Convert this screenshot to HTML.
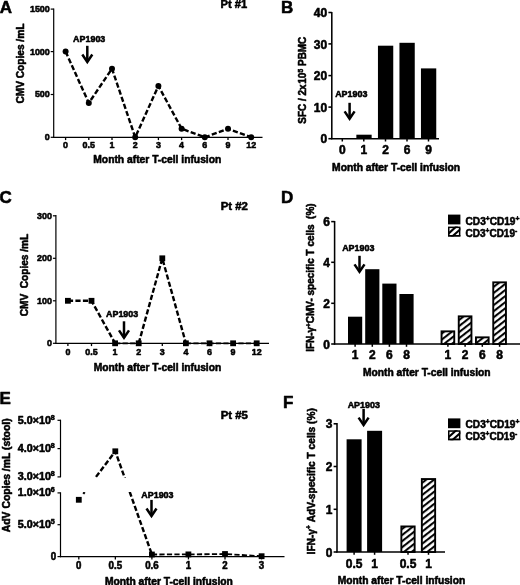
<!DOCTYPE html>
<html><head><meta charset="utf-8"><title>Figure</title>
<style>html,body{margin:0;padding:0;background:#fff;}svg{display:block;filter:blur(0.35px);}text{fill:#000;stroke:#000;stroke-width:0.55px;stroke-linejoin:round;}</style></head><body>
<svg width="520" height="585" viewBox="0 0 520 585" font-family="Liberation Sans, sans-serif" font-weight="bold">
<defs><pattern id="h" patternUnits="userSpaceOnUse" width="4.8" height="4.8" patternTransform="rotate(-38)"><rect width="4.8" height="4.8" fill="#fff"/><rect y="1" width="4.8" height="2.05" fill="#000"/></pattern><pattern id="h2" patternUnits="userSpaceOnUse" width="4.8" height="4.8" patternTransform="translate(0 2.2) rotate(-38)"><rect width="4.8" height="4.8" fill="#fff"/><rect y="1" width="4.8" height="2.05" fill="#000"/></pattern></defs>
<rect width="520" height="585" fill="#fff"/>
<text x="-0.2" y="13.2" font-size="17" text-anchor="start" >A</text>
<text x="280.9" y="12.7" font-size="17" text-anchor="start" >B</text>
<text x="-0.6" y="202.8" font-size="17" text-anchor="start" >C</text>
<text x="280.9" y="202.5" font-size="17" text-anchor="start" >D</text>
<text x="-0.5" y="403.5" font-size="17" text-anchor="start" >E</text>
<text x="283.0" y="407.6" font-size="17" text-anchor="start" >F</text>
<line x1="53.7" y1="8.5" x2="53.7" y2="137.9" stroke="#000" stroke-width="1.2" />
<line x1="53.1" y1="137.3" x2="262.5" y2="137.3" stroke="#000" stroke-width="1.2" />
<line x1="50.7" y1="9.1" x2="53.7" y2="9.1" stroke="#000" stroke-width="1.2" />
<text x="49.800000000000004" y="12.011999999999999" font-size="9.2" text-anchor="end" textLength="19.85" lengthAdjust="spacingAndGlyphs" >1500</text>
<line x1="50.7" y1="51.6" x2="53.7" y2="51.6" stroke="#000" stroke-width="1.2" />
<text x="49.800000000000004" y="54.512" font-size="9.2" text-anchor="end" textLength="19.85" lengthAdjust="spacingAndGlyphs" >1000</text>
<line x1="50.7" y1="94.5" x2="53.7" y2="94.5" stroke="#000" stroke-width="1.2" />
<text x="49.800000000000004" y="97.41199999999999" font-size="9.2" text-anchor="end" textLength="14.89" lengthAdjust="spacingAndGlyphs" >500</text>
<line x1="50.7" y1="137.3" x2="53.7" y2="137.3" stroke="#000" stroke-width="1.2" />
<text x="49.800000000000004" y="140.21200000000002" font-size="9.2" text-anchor="end" textLength="4.96" lengthAdjust="spacingAndGlyphs" >0</text>
<text x="65.6" y="148.21200000000002" font-size="9.2" text-anchor="middle" textLength="4.96" lengthAdjust="spacingAndGlyphs" >0</text>
<line x1="65.6" y1="137.3" x2="65.6" y2="140.1" stroke="#000" stroke-width="1.3" />
<text x="88.8" y="148.21200000000002" font-size="9.2" text-anchor="middle" textLength="12.4" lengthAdjust="spacingAndGlyphs" >0.5</text>
<line x1="88.8" y1="137.3" x2="88.8" y2="140.1" stroke="#000" stroke-width="1.3" />
<text x="112.0" y="148.21200000000002" font-size="9.2" text-anchor="middle" textLength="4.96" lengthAdjust="spacingAndGlyphs" >1</text>
<line x1="112.0" y1="137.3" x2="112.0" y2="140.1" stroke="#000" stroke-width="1.3" />
<text x="135.2" y="148.21200000000002" font-size="9.2" text-anchor="middle" textLength="4.96" lengthAdjust="spacingAndGlyphs" >2</text>
<line x1="135.2" y1="137.3" x2="135.2" y2="140.1" stroke="#000" stroke-width="1.3" />
<text x="158.39999999999998" y="148.21200000000002" font-size="9.2" text-anchor="middle" textLength="4.96" lengthAdjust="spacingAndGlyphs" >3</text>
<line x1="158.39999999999998" y1="137.3" x2="158.39999999999998" y2="140.1" stroke="#000" stroke-width="1.3" />
<text x="181.6" y="148.21200000000002" font-size="9.2" text-anchor="middle" textLength="4.96" lengthAdjust="spacingAndGlyphs" >4</text>
<line x1="181.6" y1="137.3" x2="181.6" y2="140.1" stroke="#000" stroke-width="1.3" />
<text x="204.79999999999998" y="148.21200000000002" font-size="9.2" text-anchor="middle" textLength="4.96" lengthAdjust="spacingAndGlyphs" >6</text>
<line x1="204.79999999999998" y1="137.3" x2="204.79999999999998" y2="140.1" stroke="#000" stroke-width="1.3" />
<text x="228.0" y="148.21200000000002" font-size="9.2" text-anchor="middle" textLength="4.96" lengthAdjust="spacingAndGlyphs" >9</text>
<line x1="228.0" y1="137.3" x2="228.0" y2="140.1" stroke="#000" stroke-width="1.3" />
<text x="251.2" y="148.21200000000002" font-size="9.2" text-anchor="middle" textLength="9.92" lengthAdjust="spacingAndGlyphs" >12</text>
<line x1="251.2" y1="137.3" x2="251.2" y2="140.1" stroke="#000" stroke-width="1.3" />
<polyline points="65.6,51.6 88.8,103.0 112.0,68.7 135.2,137.3 158.4,85.9 181.6,128.7 204.8,137.3 228.0,128.7 251.2,137.3" fill="none" stroke="#000" stroke-width="2.4" stroke-dasharray="5.2 2.3"/>
<circle cx="65.6" cy="51.6" r="3.0" fill="#000"/>
<circle cx="88.8" cy="103.0" r="3.0" fill="#000"/>
<circle cx="112.0" cy="68.7" r="3.0" fill="#000"/>
<circle cx="135.2" cy="137.3" r="3.0" fill="#000"/>
<circle cx="158.4" cy="85.9" r="3.0" fill="#000"/>
<circle cx="181.6" cy="128.7" r="3.0" fill="#000"/>
<circle cx="204.8" cy="137.3" r="3.0" fill="#000"/>
<circle cx="228.0" cy="128.7" r="3.0" fill="#000"/>
<circle cx="251.2" cy="137.3" r="3.0" fill="#000"/>
<text x="157.3" y="163.036" font-size="10.1" text-anchor="middle" textLength="128" lengthAdjust="spacingAndGlyphs" >Month after T-cell infusion</text>
<text transform="translate(23.836 63.6) rotate(-90)" font-size="10.1" text-anchor="middle" textLength="80" lengthAdjust="spacingAndGlyphs">CMV Copies /mL</text>
<text x="233.8" y="8.25" font-size="11.2" text-anchor="middle" textLength="26.7" lengthAdjust="spacingAndGlyphs" >Pt #1</text>
<text x="89.2" y="42.111999999999995" font-size="9.2" text-anchor="middle" textLength="32.2" lengthAdjust="spacingAndGlyphs" >AP1903</text>
<line x1="87.3" y1="45.8" x2="87.3" y2="61.967288643823395" stroke="#000" stroke-width="2.5" />
<polyline points="82.30,54.57 87.3,61.97 92.30,54.57" fill="none" stroke="#000" stroke-width="2.5" stroke-linejoin="miter" stroke-miterlimit="10"/>
<line x1="331.8" y1="12" x2="331.8" y2="139.29999999999998" stroke="#000" stroke-width="1.55" />
<line x1="331.2" y1="138.7" x2="439" y2="138.7" stroke="#000" stroke-width="1.55" />
<line x1="328.40000000000003" y1="12.5" x2="331.8" y2="12.5" stroke="#000" stroke-width="1.55" />
<text x="327.20000000000005" y="17.12" font-size="12" text-anchor="end" textLength="13.34" lengthAdjust="spacingAndGlyphs" >40</text>
<line x1="328.40000000000003" y1="43.9" x2="331.8" y2="43.9" stroke="#000" stroke-width="1.55" />
<text x="327.20000000000005" y="48.519999999999996" font-size="12" text-anchor="end" textLength="13.34" lengthAdjust="spacingAndGlyphs" >30</text>
<line x1="328.40000000000003" y1="75.6" x2="331.8" y2="75.6" stroke="#000" stroke-width="1.55" />
<text x="327.20000000000005" y="80.21999999999998" font-size="12" text-anchor="end" textLength="13.34" lengthAdjust="spacingAndGlyphs" >20</text>
<line x1="328.40000000000003" y1="107.1" x2="331.8" y2="107.1" stroke="#000" stroke-width="1.55" />
<text x="327.20000000000005" y="111.71999999999998" font-size="12" text-anchor="end" textLength="13.34" lengthAdjust="spacingAndGlyphs" >10</text>
<line x1="328.40000000000003" y1="138.7" x2="331.8" y2="138.7" stroke="#000" stroke-width="1.55" />
<text x="327.20000000000005" y="143.32" font-size="12" text-anchor="end" textLength="6.67" lengthAdjust="spacingAndGlyphs" >0</text>
<text x="342.3" y="154.22" font-size="12" text-anchor="middle" >0</text>
<line x1="342.3" y1="138.7" x2="342.3" y2="141.5" stroke="#000" stroke-width="1.5" />
<text x="363.8" y="154.22" font-size="12" text-anchor="middle" >1</text>
<line x1="363.8" y1="138.7" x2="363.8" y2="141.5" stroke="#000" stroke-width="1.5" />
<text x="385.5" y="154.22" font-size="12" text-anchor="middle" >2</text>
<line x1="385.5" y1="138.7" x2="385.5" y2="141.5" stroke="#000" stroke-width="1.5" />
<text x="407" y="154.22" font-size="12" text-anchor="middle" >6</text>
<line x1="407" y1="138.7" x2="407" y2="141.5" stroke="#000" stroke-width="1.5" />
<text x="428.5" y="154.22" font-size="12" text-anchor="middle" >9</text>
<line x1="428.5" y1="138.7" x2="428.5" y2="141.5" stroke="#000" stroke-width="1.5" />
<rect x="356.35" y="134.70" width="15.30" height="4.00" fill="#000"/>
<rect x="377.95" y="45.70" width="15.30" height="93.00" fill="#000"/>
<rect x="399.45" y="42.80" width="15.30" height="95.90" fill="#000"/>
<rect x="420.95" y="68.40" width="15.30" height="70.30" fill="#000"/>
<text x="396.1" y="171.33599999999998" font-size="10.1" text-anchor="middle" textLength="128" lengthAdjust="spacingAndGlyphs" >Month after T-cell infusion</text>
<text transform="translate(306.23600000000005 80.2) rotate(-90)" font-size="10.1" text-anchor="middle" textLength="87" lengthAdjust="spacingAndGlyphs">SFC / 2x<tspan dx="0.7">10</tspan><tspan font-size="6.8" dy="-3.7" dx="0.2">5</tspan><tspan dy="3.7"> PBMC</tspan></text>
<text x="351.3" y="96.91199999999999" font-size="9.2" text-anchor="middle" textLength="32.2" lengthAdjust="spacingAndGlyphs" >AP1903</text>
<line x1="349.6" y1="102.8" x2="349.6" y2="118.76728864382339" stroke="#000" stroke-width="2.5" />
<polyline points="344.60,111.37 349.6,118.77 354.60,111.37" fill="none" stroke="#000" stroke-width="2.5" stroke-linejoin="miter" stroke-miterlimit="10"/>
<line x1="55.9" y1="215" x2="55.9" y2="343.90000000000003" stroke="#000" stroke-width="1.2" />
<line x1="55.3" y1="343.3" x2="269" y2="343.3" stroke="#000" stroke-width="1.2" />
<line x1="52.9" y1="215.8" x2="55.9" y2="215.8" stroke="#000" stroke-width="1.2" />
<text x="52.0" y="218.71200000000002" font-size="9.2" text-anchor="end" textLength="14.89" lengthAdjust="spacingAndGlyphs" >300</text>
<line x1="52.9" y1="258.3" x2="55.9" y2="258.3" stroke="#000" stroke-width="1.2" />
<text x="52.0" y="261.21200000000005" font-size="9.2" text-anchor="end" textLength="14.89" lengthAdjust="spacingAndGlyphs" >200</text>
<line x1="52.9" y1="300.8" x2="55.9" y2="300.8" stroke="#000" stroke-width="1.2" />
<text x="52.0" y="303.71200000000005" font-size="9.2" text-anchor="end" textLength="14.89" lengthAdjust="spacingAndGlyphs" >100</text>
<line x1="52.9" y1="343.3" x2="55.9" y2="343.3" stroke="#000" stroke-width="1.2" />
<text x="52.0" y="346.21200000000005" font-size="9.2" text-anchor="end" textLength="4.96" lengthAdjust="spacingAndGlyphs" >0</text>
<text x="67.9" y="354.91200000000003" font-size="9.2" text-anchor="middle" textLength="4.96" lengthAdjust="spacingAndGlyphs" >0</text>
<line x1="67.9" y1="343.3" x2="67.9" y2="346.1" stroke="#000" stroke-width="1.3" />
<text x="91.5" y="354.91200000000003" font-size="9.2" text-anchor="middle" textLength="12.4" lengthAdjust="spacingAndGlyphs" >0.5</text>
<line x1="91.5" y1="343.3" x2="91.5" y2="346.1" stroke="#000" stroke-width="1.3" />
<text x="115.10000000000001" y="354.91200000000003" font-size="9.2" text-anchor="middle" textLength="4.96" lengthAdjust="spacingAndGlyphs" >1</text>
<line x1="115.10000000000001" y1="343.3" x2="115.10000000000001" y2="346.1" stroke="#000" stroke-width="1.3" />
<text x="138.70000000000002" y="354.91200000000003" font-size="9.2" text-anchor="middle" textLength="4.96" lengthAdjust="spacingAndGlyphs" >2</text>
<line x1="138.70000000000002" y1="343.3" x2="138.70000000000002" y2="346.1" stroke="#000" stroke-width="1.3" />
<text x="162.3" y="354.91200000000003" font-size="9.2" text-anchor="middle" textLength="4.96" lengthAdjust="spacingAndGlyphs" >3</text>
<line x1="162.3" y1="343.3" x2="162.3" y2="346.1" stroke="#000" stroke-width="1.3" />
<text x="185.9" y="354.91200000000003" font-size="9.2" text-anchor="middle" textLength="4.96" lengthAdjust="spacingAndGlyphs" >4</text>
<line x1="185.9" y1="343.3" x2="185.9" y2="346.1" stroke="#000" stroke-width="1.3" />
<text x="209.50000000000003" y="354.91200000000003" font-size="9.2" text-anchor="middle" textLength="4.96" lengthAdjust="spacingAndGlyphs" >6</text>
<line x1="209.50000000000003" y1="343.3" x2="209.50000000000003" y2="346.1" stroke="#000" stroke-width="1.3" />
<text x="233.10000000000002" y="354.91200000000003" font-size="9.2" text-anchor="middle" textLength="4.96" lengthAdjust="spacingAndGlyphs" >9</text>
<line x1="233.10000000000002" y1="343.3" x2="233.10000000000002" y2="346.1" stroke="#000" stroke-width="1.3" />
<text x="256.70000000000005" y="354.91200000000003" font-size="9.2" text-anchor="middle" textLength="9.92" lengthAdjust="spacingAndGlyphs" >12</text>
<line x1="256.70000000000005" y1="343.3" x2="256.70000000000005" y2="346.1" stroke="#000" stroke-width="1.3" />
<polyline points="67.9,300.8 91.5,300.8 115.1,343.3" fill="none" stroke="#000" stroke-width="2.4" stroke-dasharray="5.2 2.3"/>
<polyline points="115.1,343.3 138.7,343.3" fill="none" stroke="#000" stroke-width="1.7" stroke-dasharray="5.2 2.3"/>
<polyline points="138.7,343.3 162.3,258.3 185.9,343.3" fill="none" stroke="#000" stroke-width="2.4" stroke-dasharray="5.2 2.3"/>
<polyline points="185.9,343.3 209.5,343.3 233.1,343.3 256.7,343.3" fill="none" stroke="#000" stroke-width="1.7" stroke-dasharray="5.2 2.3"/>
<rect x="65.0" y="297.9" width="5.8" height="5.8" fill="#000"/>
<rect x="88.6" y="297.9" width="5.8" height="5.8" fill="#000"/>
<rect x="112.2" y="340.4" width="5.8" height="5.8" fill="#000"/>
<rect x="135.8" y="340.4" width="5.8" height="5.8" fill="#000"/>
<rect x="159.4" y="255.4" width="5.8" height="5.8" fill="#000"/>
<rect x="183.0" y="340.4" width="5.8" height="5.8" fill="#000"/>
<rect x="206.6" y="340.4" width="5.8" height="5.8" fill="#000"/>
<rect x="230.2" y="340.4" width="5.8" height="5.8" fill="#000"/>
<rect x="253.8" y="340.4" width="5.8" height="5.8" fill="#000"/>
<text x="157.5" y="371.336" font-size="10.1" text-anchor="middle" textLength="127.5" lengthAdjust="spacingAndGlyphs" >Month after T-cell infusion</text>
<text transform="translate(27.535999999999998 275.0) rotate(-90)" font-size="10.1" text-anchor="middle" textLength="82.5" lengthAdjust="spacingAndGlyphs">CMV&#160; Copies /mL</text>
<text x="234.3" y="210.3" font-size="11.2" text-anchor="middle" textLength="27.3" lengthAdjust="spacingAndGlyphs" >Pt #2</text>
<text x="122.1" y="316.91200000000003" font-size="9.2" text-anchor="middle" textLength="32.2" lengthAdjust="spacingAndGlyphs" >AP1903</text>
<line x1="124" y1="321.3" x2="124" y2="337.7672886438234" stroke="#000" stroke-width="2.5" />
<polyline points="119.00,330.37 124,337.77 129.00,330.37" fill="none" stroke="#000" stroke-width="2.5" stroke-linejoin="miter" stroke-miterlimit="10"/>
<line x1="334.6" y1="221" x2="334.6" y2="344.6" stroke="#000" stroke-width="1.55" />
<line x1="334.0" y1="344" x2="520" y2="344" stroke="#000" stroke-width="1.55" />
<line x1="331.20000000000005" y1="221.6" x2="334.6" y2="221.6" stroke="#000" stroke-width="1.55" />
<text x="330.00000000000006" y="226.22" font-size="12" text-anchor="end" textLength="6.67" lengthAdjust="spacingAndGlyphs" >6</text>
<line x1="331.20000000000005" y1="262.3" x2="334.6" y2="262.3" stroke="#000" stroke-width="1.55" />
<text x="330.00000000000006" y="266.92" font-size="12" text-anchor="end" textLength="6.67" lengthAdjust="spacingAndGlyphs" >4</text>
<line x1="331.20000000000005" y1="303.3" x2="334.6" y2="303.3" stroke="#000" stroke-width="1.55" />
<text x="330.00000000000006" y="307.92" font-size="12" text-anchor="end" textLength="6.67" lengthAdjust="spacingAndGlyphs" >2</text>
<line x1="331.20000000000005" y1="344" x2="334.6" y2="344" stroke="#000" stroke-width="1.55" />
<text x="330.00000000000006" y="348.62" font-size="12" text-anchor="end" textLength="6.67" lengthAdjust="spacingAndGlyphs" >0</text>
<rect x="348.00" y="316.70" width="14.20" height="27.30" fill="#000"/>
<text x="355.1" y="358.92" font-size="12" text-anchor="middle" >1</text>
<line x1="355.1" y1="344" x2="355.1" y2="346.8" stroke="#000" stroke-width="1.5" />
<rect x="365.20" y="269.20" width="14.20" height="74.80" fill="#000"/>
<text x="372.3" y="358.92" font-size="12" text-anchor="middle" >2</text>
<line x1="372.3" y1="344" x2="372.3" y2="346.8" stroke="#000" stroke-width="1.5" />
<rect x="382.30" y="283.60" width="14.20" height="60.40" fill="#000"/>
<text x="389.4" y="358.92" font-size="12" text-anchor="middle" >6</text>
<line x1="389.4" y1="344" x2="389.4" y2="346.8" stroke="#000" stroke-width="1.5" />
<rect x="399.40" y="294.00" width="14.20" height="50.00" fill="#000"/>
<text x="406.5" y="358.92" font-size="12" text-anchor="middle" >8</text>
<line x1="406.5" y1="344" x2="406.5" y2="346.8" stroke="#000" stroke-width="1.5" />
<rect x="441.55" y="331.35" width="12.70" height="12.65" fill="url(#h)" stroke="#000" stroke-width="1.9"/>
<text x="447.9" y="358.92" font-size="12" text-anchor="middle" >1</text>
<line x1="447.9" y1="344" x2="447.9" y2="346.8" stroke="#000" stroke-width="1.5" />
<rect x="458.75" y="316.35" width="12.70" height="27.65" fill="url(#h)" stroke="#000" stroke-width="1.9"/>
<text x="465.1" y="358.92" font-size="12" text-anchor="middle" >2</text>
<line x1="465.1" y1="344" x2="465.1" y2="346.8" stroke="#000" stroke-width="1.5" />
<rect x="475.95" y="337.35" width="12.70" height="6.65" fill="url(#h)" stroke="#000" stroke-width="1.9"/>
<text x="482.3" y="358.92" font-size="12" text-anchor="middle" >6</text>
<line x1="482.3" y1="344" x2="482.3" y2="346.8" stroke="#000" stroke-width="1.5" />
<rect x="493.25" y="282.35" width="12.70" height="61.65" fill="url(#h)" stroke="#000" stroke-width="1.9"/>
<text x="499.6" y="358.92" font-size="12" text-anchor="middle" >8</text>
<line x1="499.6" y1="344" x2="499.6" y2="346.8" stroke="#000" stroke-width="1.5" />
<text x="426.8" y="375.836" font-size="10.1" text-anchor="middle" textLength="127.5" lengthAdjust="spacingAndGlyphs" >Month after T-cell infusion</text>
<text transform="translate(314.036 277.6) rotate(-90)" font-size="10.1" text-anchor="middle" textLength="148.5" lengthAdjust="spacingAndGlyphs">IFN-γ<tspan font-size="6.5" dy="-3.5">+</tspan><tspan dy="3.5">CMV- specific T cells&#160; (%)</tspan></text>
<text x="358.3" y="251.21200000000002" font-size="9.2" text-anchor="middle" textLength="32.2" lengthAdjust="spacingAndGlyphs" >AP1903</text>
<line x1="359.5" y1="255.8" x2="359.5" y2="271.7672886438234" stroke="#000" stroke-width="2.5" />
<polyline points="354.50,264.37 359.5,271.77 364.50,264.37" fill="none" stroke="#000" stroke-width="2.5" stroke-linejoin="miter" stroke-miterlimit="10"/>
<rect x="448.00" y="214.60" width="12.40" height="9.80" fill="#000"/>
<clipPath id="c226"><rect x="448" y="226.6" width="12.4" height="9.9"/></clipPath>
<rect x="448.75" y="227.35" width="10.9" height="8.4" fill="#fff" stroke="#000" stroke-width="1.5"/>
<line x1="443.71" y1="237.83" x2="461.55" y2="221.77" stroke="#000" stroke-width="2.1" clip-path="url(#c226)"/>
<line x1="446.85" y1="241.33" x2="464.69" y2="225.27" stroke="#000" stroke-width="2.1" clip-path="url(#c226)"/>
<line x1="448" y1="235.75" x2="460.4" y2="235.75" stroke="#000" stroke-width="1.5"/>
<text x="465.6" y="224.5" font-size="10.4" text-anchor="start" textLength="53.8" lengthAdjust="spacingAndGlyphs" >CD3<tspan font-size="7" dy="-4">+</tspan><tspan dy="4">CD19</tspan><tspan font-size="7" dy="-4">+</tspan></text>
<text x="465.6" y="236.5" font-size="10.4" text-anchor="start" textLength="51.6" lengthAdjust="spacingAndGlyphs" >CD3<tspan font-size="7" dy="-4">+</tspan><tspan dy="4">CD19</tspan><tspan font-size="7" dy="-4">-</tspan></text>
<line x1="60.5" y1="419.7" x2="60.5" y2="477.3" stroke="#000" stroke-width="1.2" />
<line x1="60.5" y1="492.3" x2="60.5" y2="557.2" stroke="#000" stroke-width="1.2" />
<line x1="59.9" y1="556.6" x2="284.5" y2="556.6" stroke="#000" stroke-width="1.2" />
<line x1="57.5" y1="420.3" x2="60.5" y2="420.3" stroke="#000" stroke-width="1.2" />
<text x="54.8" y="423.70000000000005" font-size="10.0" text-anchor="end" textLength="37.0" lengthAdjust="spacingAndGlyphs" >5.0×10<tspan font-size="6.6" dy="-3.9">8</tspan></text>
<line x1="57.5" y1="448.6" x2="60.5" y2="448.6" stroke="#000" stroke-width="1.2" />
<text x="54.8" y="452.00000000000006" font-size="10.0" text-anchor="end" textLength="37.0" lengthAdjust="spacingAndGlyphs" >4.0×10<tspan font-size="6.6" dy="-3.9">8</tspan></text>
<line x1="57.5" y1="476.9" x2="60.5" y2="476.9" stroke="#000" stroke-width="1.2" />
<text x="54.8" y="480.3" font-size="10.0" text-anchor="end" textLength="37.0" lengthAdjust="spacingAndGlyphs" >3.0×10<tspan font-size="6.6" dy="-3.9">8</tspan></text>
<line x1="57.5" y1="492.9" x2="60.5" y2="492.9" stroke="#000" stroke-width="1.2" />
<text x="54.8" y="496.3" font-size="10.0" text-anchor="end" textLength="37.0" lengthAdjust="spacingAndGlyphs" >1.0×10<tspan font-size="6.6" dy="-3.9">6</tspan></text>
<line x1="57.5" y1="524.7" x2="60.5" y2="524.7" stroke="#000" stroke-width="1.2" />
<text x="54.8" y="528.1" font-size="10.0" text-anchor="end" textLength="37.0" lengthAdjust="spacingAndGlyphs" >5.0×10<tspan font-size="6.6" dy="-3.9">5</tspan></text>
<line x1="57.5" y1="556.6" x2="60.5" y2="556.6" stroke="#000" stroke-width="1.2" />
<text x="56.1" y="560.4" font-size="10.0" text-anchor="end" textLength="5.39" lengthAdjust="spacingAndGlyphs" >0</text>
<text x="78.8" y="568.9" font-size="10.0" text-anchor="middle" textLength="5.39" lengthAdjust="spacingAndGlyphs" >0</text>
<line x1="78.8" y1="556.6" x2="78.8" y2="559.4" stroke="#000" stroke-width="1.3" />
<text x="115.35" y="568.9" font-size="10.0" text-anchor="middle" textLength="13.48" lengthAdjust="spacingAndGlyphs" >0.5</text>
<line x1="115.35" y1="556.6" x2="115.35" y2="559.4" stroke="#000" stroke-width="1.3" />
<text x="151.89999999999998" y="568.9" font-size="10.0" text-anchor="middle" textLength="13.48" lengthAdjust="spacingAndGlyphs" >0.6</text>
<line x1="151.89999999999998" y1="556.6" x2="151.89999999999998" y2="559.4" stroke="#000" stroke-width="1.3" />
<text x="188.45" y="568.9" font-size="10.0" text-anchor="middle" textLength="5.39" lengthAdjust="spacingAndGlyphs" >1</text>
<line x1="188.45" y1="556.6" x2="188.45" y2="559.4" stroke="#000" stroke-width="1.3" />
<text x="225.0" y="568.9" font-size="10.0" text-anchor="middle" textLength="5.39" lengthAdjust="spacingAndGlyphs" >2</text>
<line x1="225.0" y1="556.6" x2="225.0" y2="559.4" stroke="#000" stroke-width="1.3" />
<text x="261.55" y="568.9" font-size="10.0" text-anchor="middle" textLength="5.39" lengthAdjust="spacingAndGlyphs" >3</text>
<line x1="261.55" y1="556.6" x2="261.55" y2="559.4" stroke="#000" stroke-width="1.3" />
<line x1="83.3" y1="493.9" x2="84.6" y2="492.2" stroke="#000" stroke-width="2.2" />
<polyline points="96.0,476.9 115.3,451.3 151.9,554.5" fill="none" stroke="#000" stroke-width="2.4" stroke-dasharray="5.2 2.3"/>
<polyline points="151.9,554.5 188.4,554.4 225.0,554.0 261.6,556.2" fill="none" stroke="#000" stroke-width="1.8" stroke-dasharray="5.2 2.3"/>
<rect x="61.5" y="478" width="130" height="14" fill="#fff"/>
<rect x="75.9" y="496.9" width="5.8" height="5.8" fill="#000"/>
<rect x="112.4" y="448.4" width="5.8" height="5.8" fill="#000"/>
<rect x="149.0" y="551.6" width="5.8" height="5.8" fill="#000"/>
<rect x="185.5" y="551.5" width="5.8" height="5.8" fill="#000"/>
<rect x="222.1" y="551.1" width="5.8" height="5.8" fill="#000"/>
<rect x="258.7" y="553.3" width="5.8" height="5.8" fill="#000"/>
<text x="168.9" y="584.836" font-size="10.1" text-anchor="middle" textLength="128" lengthAdjust="spacingAndGlyphs" >Month after T-cell infusion</text>
<text transform="translate(9.836 475.3) rotate(-90)" font-size="10.1" text-anchor="middle" textLength="113.8" lengthAdjust="spacingAndGlyphs">AdV Copies /mL (stool)</text>
<text x="234.3" y="418.6" font-size="11.2" text-anchor="middle" textLength="27.3" lengthAdjust="spacingAndGlyphs" >Pt #5</text>
<text x="157.4" y="497.91200000000003" font-size="9.2" text-anchor="middle" textLength="32.2" lengthAdjust="spacingAndGlyphs" >AP1903</text>
<line x1="151.5" y1="499.9" x2="151.5" y2="515.9672886438234" stroke="#000" stroke-width="2.5" />
<polyline points="146.50,508.57 151.5,515.97 156.50,508.57" fill="none" stroke="#000" stroke-width="2.5" stroke-linejoin="miter" stroke-miterlimit="10"/>
<line x1="337" y1="423" x2="337" y2="552.6" stroke="#000" stroke-width="1.55" />
<line x1="336.4" y1="552" x2="445" y2="552" stroke="#000" stroke-width="1.55" />
<line x1="333.6" y1="423.8" x2="337" y2="423.8" stroke="#000" stroke-width="1.55" />
<text x="332.40000000000003" y="428.42" font-size="12" text-anchor="end" textLength="6.67" lengthAdjust="spacingAndGlyphs" >3</text>
<line x1="333.6" y1="466.5" x2="337" y2="466.5" stroke="#000" stroke-width="1.55" />
<text x="332.40000000000003" y="471.12" font-size="12" text-anchor="end" textLength="6.67" lengthAdjust="spacingAndGlyphs" >2</text>
<line x1="333.6" y1="509.3" x2="337" y2="509.3" stroke="#000" stroke-width="1.55" />
<text x="332.40000000000003" y="513.92" font-size="12" text-anchor="end" textLength="6.67" lengthAdjust="spacingAndGlyphs" >1</text>
<line x1="333.6" y1="552" x2="337" y2="552" stroke="#000" stroke-width="1.55" />
<text x="332.40000000000003" y="556.62" font-size="12" text-anchor="end" textLength="6.67" lengthAdjust="spacingAndGlyphs" >0</text>
<rect x="346.60" y="439.30" width="15.00" height="112.70" fill="#000"/>
<text x="354.1" y="568.12" font-size="12" text-anchor="middle" >0.5</text>
<line x1="354.1" y1="552" x2="354.1" y2="554.8" stroke="#000" stroke-width="1.5" />
<rect x="367.10" y="430.80" width="15.00" height="121.20" fill="#000"/>
<text x="374.6" y="568.12" font-size="12" text-anchor="middle" >1</text>
<line x1="374.6" y1="552" x2="374.6" y2="554.8" stroke="#000" stroke-width="1.5" />
<rect x="401.35" y="526.45" width="13.30" height="25.55" fill="url(#h)" stroke="#000" stroke-width="1.9"/>
<text x="408.0" y="568.12" font-size="12" text-anchor="middle" >0.5</text>
<line x1="408.0" y1="552" x2="408.0" y2="554.8" stroke="#000" stroke-width="1.5" />
<rect x="421.85" y="479.05" width="13.30" height="72.95" fill="url(#h)" stroke="#000" stroke-width="1.9"/>
<text x="428.5" y="568.12" font-size="12" text-anchor="middle" >1</text>
<line x1="428.5" y1="552" x2="428.5" y2="554.8" stroke="#000" stroke-width="1.5" />
<text x="401.5" y="583.9359999999999" font-size="10.1" text-anchor="middle" textLength="127.5" lengthAdjust="spacingAndGlyphs" >Month after T-cell infusion</text>
<text transform="translate(314.836 481.3) rotate(-90)" font-size="10.1" text-anchor="middle" textLength="146.3" lengthAdjust="spacingAndGlyphs">IFN-γ<tspan font-size="6.5" dy="-3.5">+</tspan><tspan dy="3.5"> AdV-specific T cells (%)</tspan></text>
<text x="363.8" y="407.91200000000003" font-size="9.2" text-anchor="middle" textLength="32.2" lengthAdjust="spacingAndGlyphs" >AP1903</text>
<line x1="363.6" y1="409" x2="363.6" y2="425.0672886438234" stroke="#000" stroke-width="2.5" />
<polyline points="358.60,417.67 363.6,425.07 368.60,417.67" fill="none" stroke="#000" stroke-width="2.5" stroke-linejoin="miter" stroke-miterlimit="10"/>
<rect x="448.00" y="418.40" width="12.40" height="9.80" fill="#000"/>
<clipPath id="c430"><rect x="448" y="430.3" width="12.4" height="9.9"/></clipPath>
<rect x="448.75" y="431.05" width="10.9" height="8.4" fill="#fff" stroke="#000" stroke-width="1.5"/>
<line x1="443.71" y1="441.53" x2="461.55" y2="425.47" stroke="#000" stroke-width="2.1" clip-path="url(#c430)"/>
<line x1="446.85" y1="445.03" x2="464.69" y2="428.97" stroke="#000" stroke-width="2.1" clip-path="url(#c430)"/>
<line x1="448" y1="439.45" x2="460.4" y2="439.45" stroke="#000" stroke-width="1.5"/>
<text x="465.6" y="428.29999999999995" font-size="10.4" text-anchor="start" textLength="53.8" lengthAdjust="spacingAndGlyphs" >CD3<tspan font-size="7" dy="-4">+</tspan><tspan dy="4">CD19</tspan><tspan font-size="7" dy="-4">+</tspan></text>
<text x="465.6" y="440.2" font-size="10.4" text-anchor="start" textLength="51.6" lengthAdjust="spacingAndGlyphs" >CD3<tspan font-size="7" dy="-4">+</tspan><tspan dy="4">CD19</tspan><tspan font-size="7" dy="-4">-</tspan></text>
</svg></body></html>
